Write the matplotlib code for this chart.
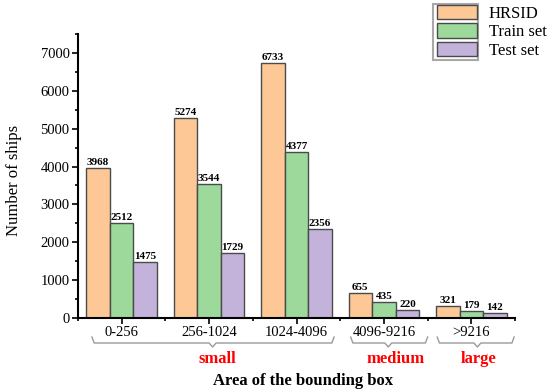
import matplotlib
matplotlib.use("Agg")
import matplotlib.pyplot as plt
import numpy as np
from matplotlib.patches import Patch, Rectangle
import matplotlib.transforms as mtransforms

categories = ["0-256", "256-1024", "1024-4096", "4096-9216", ">9216"]
hrsid = [3968, 5274, 6733, 655, 321]
train = [2512, 3544, 4377, 435, 179]
test = [1475, 1729, 2356, 220, 142]
series_names = ["HRSID", "Train set", "Test set"]
# group name, brace start, brace end, brace tip, label x (data units)
groups = [("small", -0.34, 2.43, 1.04, 1.09),
          ("medium", 2.62, 3.50, 3.05, 3.13),
          ("large", 3.61, 4.49, 4.07, 4.08)]

plt.rcParams['font.family'] = ['Liberation Serif', 'DejaVu Serif']

colors = ["#FDC896", "#9CD99B", "#C3B3DA"]
edge = "#4a4a4a"

W, H = 550, 391
fig = plt.figure(figsize=(5.5, 3.91), dpi=100)
ax = fig.add_axes([78 / W, 73 / H, 437 / W, 284 / H])

x = np.arange(len(categories))
w = 0.27
for i, (vals, name) in enumerate(zip([hrsid, train, test], series_names)):
    bars = ax.bar(x + (i - 1) * w, vals, w, color=colors[i], edgecolor=edge,
                  linewidth=1.0, label=name)
    for b, v in zip(bars, vals):
        ax.text(b.get_x() + b.get_width() / 2, v + 25, str(v), ha="center",
                va="bottom", fontsize=8, fontweight="bold")

ax.set_xlim(-0.5, 4.5)
ax.set_ylim(0, 7500)
ax.set_xticks(x)
ax.set_xticklabels(categories, fontsize=10.5)
ax.set_xticks(np.arange(-0.5, 4.6, 1), minor=True)
ax.set_yticks(np.arange(0, 7001, 1000))
ax.set_yticks(np.arange(500, 7501, 1000), minor=True)
ax.tick_params(axis="y", labelsize=10.5, direction="out", length=4, width=1.2, pad=2)
ax.tick_params(axis="y", which="minor", length=2.5, width=1.2)
ax.tick_params(axis="x", which="major", length=4, width=1.2, pad=2)
ax.tick_params(axis="x", which="minor", length=2.5, width=1.2)
ax.spines["top"].set_visible(False)
ax.spines["right"].set_visible(False)
ax.spines["left"].set_linewidth(1.5)
ax.spines["bottom"].set_linewidth(1.5)
fig.text(14 / W, 1 - 180 / H, "Number of ships", rotation=90, ha="center",
         va="center", fontsize=12)
fig.text(303 / W, 1 - 381 / H, "Area of the bounding box", ha="center",
         va="center", fontsize=12, fontweight="bold")

# braces below tick labels
trans = mtransforms.blended_transform_factory(ax.transData, ax.transAxes)
y0 = -0.088
hook = 0.021
tip = 0.014
for name, xl, xr, xm, xt in groups:
    pts = [(xl, y0 + hook), (xl + 0.025, y0), (xm - 0.04, y0), (xm, y0 - tip),
           (xm + 0.04, y0), (xr - 0.025, y0), (xr, y0 + hook)]
    xs, ys = zip(*pts)
    ax.plot(xs, ys, transform=trans, color="#9a9a9a", lw=1.0, clip_on=False)
    ax.text(xt, -0.144, name, transform=trans, ha="center", va="center",
            color="#ff0000", fontsize=12, fontweight="bold")

fs = 12
px_per_em = fs * 100 / 72
leg = fig.legend(handles=[Patch(facecolor=c, edgecolor=edge, linewidth=1.0)
                          for c in colors], labels=series_names,
                 loc="upper left", bbox_to_anchor=(437 / W, 1 - 5 / H), fontsize=fs,
                 frameon=False, handlelength=40 / px_per_em,
                 handleheight=16 / px_per_em, handletextpad=12 / px_per_em,
                 labelspacing=0.08, borderpad=0, borderaxespad=0)
fig.add_artist(Rectangle((433 / W, 1 - 60 / H), 45 / W, 56 / H,
                         transform=fig.transFigure, fill=False,
                         edgecolor="#a8a8a8", linewidth=1.5))

fig.savefig("out.png", dpi=100)
